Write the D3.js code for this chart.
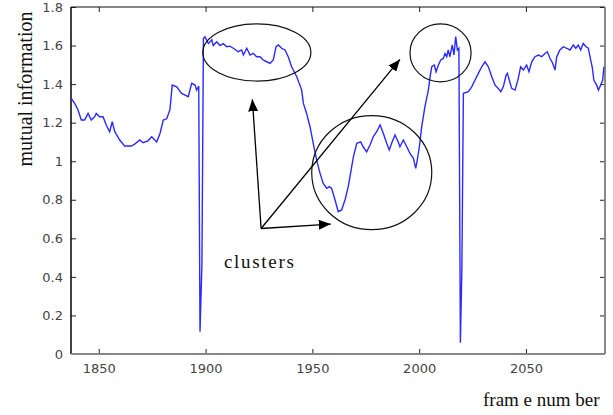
<!DOCTYPE html>
<html lang="en">
<head>
<meta charset="utf-8">
<title>Mutual information</title>
<script src="https://d3js.org/d3.v7.min.js"></script>
<style>
  body { margin: 0; background: #fff; }
  .tick text { font: 13px "DejaVu Sans", sans-serif; fill: #444; }
  .label { font-family: "Liberation Serif", "Times New Roman", serif; font-size: 19px; fill: #111; }
</style>
</head>
<body>
<div id="chart"></div>
<script>
// frame numbers and mutual information values
var frames = [1837.1,1838.7,1840.3,1841.8,1843.4,1845.0,1846.5,1848.1,1848.8,1850.4,1852.0,1853.5,1855.1,1856.3,1857.5,
  1859.8,1862.1,1865.2,1866.8,1869.2,1870.7,1873.0,1874.8,1877.1,1878.7,1880.2,1881.8,1883.3,1884.4,1886.5,1888.8,
  1890.4,1891.9,1893.5,1895.1,1895.8,1896.8,1897.4,1898.3,1899.0,1899.7,1901.3,1902.9,1903.6,1905.2,1906.8,1908.3,
  1909.9,1911.4,1913.0,1915.3,1916.9,1917.7,1919.3,1920.8,1922.3,1923.9,1925.5,1927.0,1928.6,1930.2,1931.7,1933.0,
  1934.1,1935.6,1937.2,1938.7,1940.3,1942.7,1945.0,1945.8,1947.3,1948.9,1950.4,1952.0,1953.6,1955.1,1956.7,1957.9,
  1959.0,1960.6,1962.1,1963.7,1965.3,1966.8,1968.4,1969.2,1970.8,1972.6,1973.8,1975.4,1977.0,1978.5,1980.1,1981.7,
  1983.2,1984.8,1986.0,1987.1,1988.7,1990.2,1991.0,1992.6,1994.2,1995.7,1997.3,1998.4,1999.1,2000.1,2001.2,2002.7,
  2004.3,2005.1,2005.9,2007.1,2007.9,2009.0,2010.1,2011.3,2012.1,2012.9,2013.6,2014.4,2015.5,2016.3,2017.1,2017.9,
  2018.6,2019.3,2020.0,2020.7,2023.0,2024.6,2026.1,2027.7,2029.3,2030.8,2032.4,2034.0,2035.5,2037.0,2038.2,2039.4,
  2040.7,2041.3,2042.2,2043.3,2044.9,2046.4,2047.5,2048.8,2050.3,2051.4,2052.7,2054.2,2055.8,2057.4,2058.9,2060.0,
  2061.3,2062.5,2063.6,2064.4,2065.9,2067.5,2069.1,2070.6,2072.2,2073.3,2074.5,2075.6,2076.8,2078.1,2079.2,2080.3,
  2081.0,2081.8,2083.1,2083.9,2085.0,2085.9,2086.5];
var mutualInfo = [1.326,1.30,1.266,1.214,1.214,1.248,1.214,1.231,1.248,1.231,1.231,1.188,1.153,1.205,1.153,
  1.11,1.079,1.079,1.089,1.11,1.096,1.106,1.127,1.10,1.145,1.214,1.22,1.266,1.395,1.386,1.352,
  1.343,1.335,1.404,1.395,1.369,1.39,0.116,0.47,1.637,1.646,1.61,1.63,1.60,1.62,1.60,1.61,
  1.594,1.597,1.586,1.568,1.577,1.551,1.586,1.551,1.56,1.542,1.542,1.525,1.516,1.508,1.525,1.594,
  1.603,1.586,1.577,1.542,1.49,1.438,1.369,1.30,1.248,1.179,1.093,1.006,0.937,0.885,0.859,0.868,
  0.859,0.80,0.738,0.747,0.80,0.868,0.971,1.023,1.093,1.10,1.075,1.049,1.084,1.127,1.153,1.188,
  1.145,1.093,1.058,1.093,1.136,1.10,1.075,1.11,1.075,1.04,1.015,0.963,1.006,1.075,1.179,1.283,
  1.369,1.438,1.49,1.499,1.464,1.499,1.525,1.533,1.559,1.542,1.577,1.542,1.603,1.551,1.646,1.577,
  1.586,0.059,0.45,1.352,1.361,1.386,1.42,1.456,1.49,1.516,1.49,1.438,1.395,1.378,1.361,1.386,
  1.447,1.456,1.42,1.378,1.369,1.43,1.49,1.473,1.499,1.464,1.516,1.542,1.551,1.542,1.559,1.568,
  1.533,1.508,1.473,1.542,1.577,1.594,1.586,1.577,1.603,1.586,1.603,1.577,1.611,1.594,1.586,1.525,
  1.49,1.42,1.395,1.369,1.395,1.42,1.49];

var xTicks = [1850, 1900, 1950, 2000, 2050];
var yTicks = [0, 0.2, 0.4, 0.6, 0.8, 1, 1.2, 1.4, 1.6, 1.8];

// clusters circled on the figure: centre frame, centre value, radius in frames, radius in value
var clusterRings = [
  {f: 1924.0, v: 1.564, rf: 25.3, rv: 0.148},
  {f: 2010.0, v: 1.562, rf: 14.3, rv: 0.150},
  {f: 1977.8, v: 0.941, rf: 28.1, rv: 0.296}
];
var arrowFrom = {f: 1926.0, v: 0.651};
var arrowTo = [
  {f: 1921.9, v: 1.321},
  {f: 1991.0, v: 1.528},
  {f: 1958.6, v: 0.674}
];

var W = 613, H = 415;
var margin = {top: 7, right: 8, bottom: 61, left: 71};
var width = W - margin.left - margin.right,
    height = H - margin.top - margin.bottom;

var svg = d3.select("#chart").append("svg")
    .attr("width", W)
    .attr("height", H);

var g = svg.append("g")
    .attr("transform", "translate(" + margin.left + "," + margin.top + ")");

var x = d3.scaleLinear().domain([1837, 2087]).range([0, width]);
var y = d3.scaleLinear().domain([0, 1.8]).range([height, 0]);

// matlab style box with inward ticks
function styleAxis(sel, showText) {
  sel.select(".domain").remove();
  sel.selectAll(".tick line").attr("stroke", "#222");
  if (!showText) sel.selectAll(".tick text").remove();
}

g.append("g")
  .attr("transform", "translate(0," + height + ")")
  .call(d3.axisBottom(x).tickValues(xTicks).tickSize(-5).tickPadding(10).tickFormat(d3.format("d")))
  .call(styleAxis, true);
g.append("g")
  .call(d3.axisTop(x).tickValues(xTicks).tickSize(-5))
  .call(styleAxis, false);
g.append("g")
  .call(d3.axisLeft(y).tickValues(yTicks).tickSize(-5).tickPadding(8).tickFormat(function(d){ return String(+d.toFixed(1)); }))
  .call(styleAxis, true);
g.append("g")
  .attr("transform", "translate(" + width + ",0)")
  .call(d3.axisRight(y).tickValues(yTicks).tickSize(-5))
  .call(styleAxis, false);

// box
g.append("line").attr("x1", 0).attr("x2", width).attr("y1", 0).attr("y2", 0).attr("stroke", "#111").attr("stroke-width", 1.2);
g.append("line").attr("x1", 0).attr("x2", 0).attr("y1", 0).attr("y2", height).attr("stroke", "#111").attr("stroke-width", 1.6);
g.append("line").attr("x1", 0).attr("x2", width).attr("y1", height).attr("y2", height).attr("stroke", "#888").attr("stroke-width", 2);
g.append("line").attr("x1", width).attr("x2", width).attr("y1", 0).attr("y2", height).attr("stroke", "#888").attr("stroke-width", 2);

var pts = frames.map(function(f, i){ return [f, mutualInfo[i]]; });
var line = d3.line().x(function(d){ return x(d[0]); }).y(function(d){ return y(d[1]); });

g.append("path")
  .datum(pts)
  .attr("fill", "none")
  .attr("stroke", "#2a2aff")
  .attr("stroke-width", 1.4)
  .attr("d", line);

// annotations
g.selectAll(".ring")
  .data(clusterRings)
  .enter().append("ellipse")
  .attr("cx", function(d){ return x(d.f); })
  .attr("cy", function(d){ return y(d.v); })
  .attr("rx", function(d){ return x(d.f + d.rf) - x(d.f); })
  .attr("ry", function(d){ return y(d.v - d.rv) - y(d.v); })
  .attr("fill", "none")
  .attr("stroke", "#111")
  .attr("stroke-width", 1.2);

svg.append("defs").append("marker")
  .attr("id", "head")
  .attr("viewBox", "0 0 12 10")
  .attr("refX", 12).attr("refY", 5)
  .attr("markerWidth", 12).attr("markerHeight", 10)
  .attr("markerUnits", "userSpaceOnUse")
  .attr("orient", "auto")
  .append("path").attr("d", "M0,0L12,5L0,10Z").attr("fill", "#000");

g.selectAll(".arrow")
  .data(arrowTo)
  .enter().append("line")
  .attr("x1", x(arrowFrom.f)).attr("y1", y(arrowFrom.v))
  .attr("x2", function(d){ return x(d.f); })
  .attr("y2", function(d){ return y(d.v); })
  .attr("stroke", "#000")
  .attr("stroke-width", 1.3)
  .attr("marker-end", "url(#head)");

g.append("text")
  .attr("class", "label")
  .attr("x", x(1908.6)).attr("y", y(0.446))
  .style("letter-spacing", "1.7px")
  .text("clusters");

svg.append("text")
  .attr("class", "label")
  .style("font-size", "20px")
  .attr("transform", "translate(32," + (margin.top + 82) + ") rotate(-90)")
  .attr("text-anchor", "middle")
  .text("mutual information");

svg.append("text")
  .attr("class", "label")
  .attr("x", 483).attr("y", 406)
  .text("fram e num ber");
</script>
</body>
</html>
